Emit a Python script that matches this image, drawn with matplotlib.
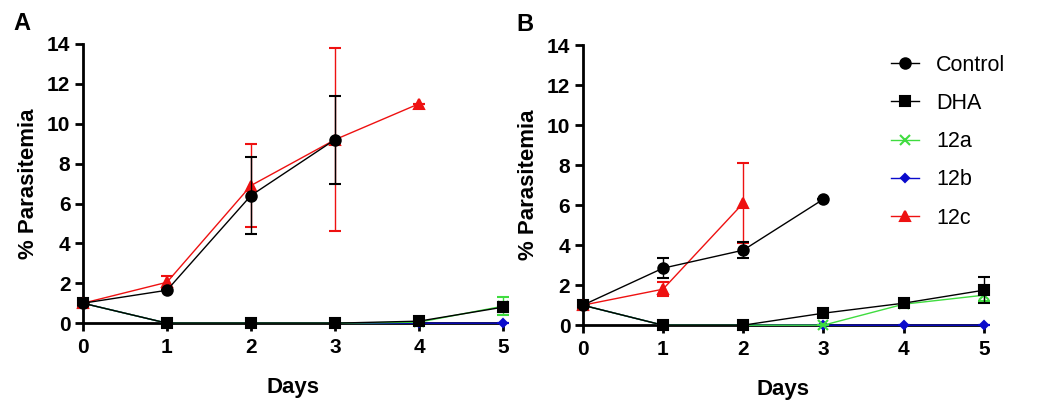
import matplotlib.pyplot as plt
from matplotlib.lines import Line2D

plt.rcParams['font.family'] = ['Liberation Sans', 'DejaVu Sans']

days = [0, 1, 2, 3, 4, 5]
series_names = ["Control", "DHA", "12a", "12b", "12c"]

# panel A
a_control = [1.0, 1.65, 6.4, 9.2]
a_control_err = [0, 0, 1.95, 2.2]
a_dha = [1.0, 0, 0, 0, 0.1, 0.8]
a_dha_err = [0, 0, 0, 0, 0, 0.25]
a_12a = [1.0, 0, 0, 0, 0.05, 0.85]
a_12a_err = [0, 0, 0, 0, 0, 0.45]
a_12b = [1.0, 0, 0, 0, 0, 0]
a_12b_err = [0, 0, 0, 0, 0, 0]
a_12c = [1.0, 2.05, 6.9, 9.2, 11.0]
a_12c_err = [0, 0.3, 2.1, 4.6, 0]

# panel B
b_control = [1.0, 2.85, 3.75, 6.3]
b_control_err = [0, 0.5, 0.4, 0]
b_dha = [1.0, 0, 0, 0.6, 1.1, 1.75]
b_dha_err = [0, 0, 0, 0, 0, 0.65]
b_12a = [1.0, 0, 0, 0, 1.05, 1.5]
b_12a_err = [0, 0, 0, 0, 0, 0.3]
b_12b = [1.0, 0, 0, 0, 0, 0]
b_12b_err = [0, 0, 0, 0, 0, 0]
b_12c = [1.0, 1.8, 6.1]
b_12c_err = [0, 0.35, 2.0]

styles = {
    "Control": dict(color="black", marker="o", ms=7.5),
    "DHA": dict(color="black", marker="s", ms=7),
    "12a": dict(color="#3fdc3f", marker="x", ms=6.5),
    "12b": dict(color="#0a0acc", marker="D", ms=4.5),
    "12c": dict(color="#ee1111", marker="^", ms=7),
}
zorders = {"12b": 3, "12a": 4, "DHA": 5, "12c": 6, "Control": 7}


def draw_panel(ax, data, letter):
    for name in series_names:
        vals, errs = data[name]
        st = styles[name]
        x = days[:len(vals)]
        ax.errorbar(x, vals, yerr=errs, color=st["color"], marker=st["marker"],
                    ms=st["ms"], mew=1.5, lw=1.0, elinewidth=1.0, capsize=4,
                    capthick=1.0, clip_on=False, zorder=zorders[name])
    ax.set_xlim(0, 5)
    ax.set_ylim(0, 14)
    ax.set_xticks(days)
    ax.set_yticks(range(0, 15, 2))
    for s in ["top", "right"]:
        ax.spines[s].set_visible(False)
    for s in ["left", "bottom"]:
        ax.spines[s].set_linewidth(2)
    ax.tick_params(width=2, length=6, labelsize=15, pad=3)
    ax.tick_params(axis="x", pad=5)
    for lab in ax.get_xticklabels() + ax.get_yticklabels():
        lab.set_fontweight("bold")
    ax.set_xlabel("Days", fontsize=16, fontweight="bold", labelpad=14)
    ax.set_ylabel("% Parasitemia", fontsize=16, fontweight="bold", labelpad=6)
    ax.text(-0.165, 1.075, letter, transform=ax.transAxes, fontsize=17,
            fontweight="bold", ha="left", va="center")


fig = plt.figure(figsize=(10.5, 4.07), dpi=100)
ax_a = fig.add_axes([0.079, 0.206, 0.400, 0.686])
ax_b = fig.add_axes([0.555, 0.201, 0.382, 0.688])

data_a = {"Control": (a_control, a_control_err), "DHA": (a_dha, a_dha_err),
          "12a": (a_12a, a_12a_err), "12b": (a_12b, a_12b_err),
          "12c": (a_12c, a_12c_err)}
data_b = {"Control": (b_control, b_control_err), "DHA": (b_dha, b_dha_err),
          "12a": (b_12a, b_12a_err), "12b": (b_12b, b_12b_err),
          "12c": (b_12c, b_12c_err)}

draw_panel(ax_a, data_a, "A")
draw_panel(ax_b, data_b, "B")

handles = [Line2D([], [], color=styles[n]["color"], marker=styles[n]["marker"],
                  ms=styles[n]["ms"], mew=1.5, lw=1.0) for n in series_names]
ax_b.legend(handles, series_names, loc="upper left", bbox_to_anchor=(0.72, 1.035),
            frameon=False, fontsize=15.5, handlelength=1.3, labelspacing=0.8,
            handletextpad=0.8)

fig.savefig("out.png", dpi=100)
